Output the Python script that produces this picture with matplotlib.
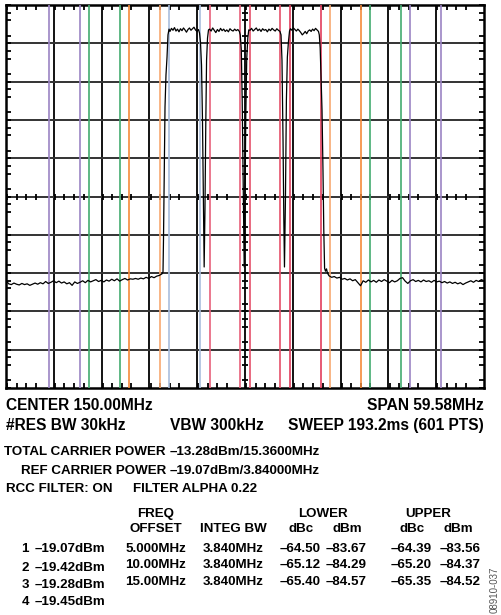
import matplotlib
matplotlib.use("Agg")
import matplotlib.pyplot as plt
import numpy as np
from matplotlib.ticker import MultipleLocator, AutoMinorLocator

plt.rcParams['font.family'] = ['Liberation Sans', 'DejaVu Sans']

W, H = 502, 615

# analyzer settings
center_mhz = 150.0
span_mhz = 59.58
ref_dbm = -34.0
db_per_div = 10.0

# carriers / integration channels
carrier_offsets = [-7.5, -2.5, 2.5, 7.5]
adj_offsets = [5.0, 10.0, 15.0]
integ_bw = 3.84

# trace (MHz, dBm)
floor_left_dbm = [-105.9, -106.8, -107.0, -106.6, -106.9, -107.1, -106.7, -107.0, -106.8, -107.2,
                  -106.9, -106.6, -106.9, -106.5, -106.8, -106.2, -106.7, -106.4, -106.0, -106.5,
                  -106.1, -106.6, -106.3, -106.8, -106.5, -107.2, -106.3, -106.7, -106.4, -106.0,
                  -106.5, -105.9, -106.3, -106.0, -105.7, -106.2, -105.9, -106.3, -105.8, -106.1,
                  -105.6, -106.0, -105.5, -106.1, -105.7, -105.4, -105.8, -105.5, -105.6, -105.4,
                  -105.6, -105.3, -105.5, -105.1, -105.4, -104.9, -105.2, -104.8, -104.6, -104.2]
skirt_left_mhz = [139.78, 139.84, 139.90, 140.03, 140.15, 140.28, 140.40, 140.53]
skirt_left_dbm = [-103.7, -95.4, -85.0, -60.6, -52.3, -47.6, -41.8, -40.3]
carrier1_dbm = [-40.9, -40.1, -40.6, -39.9, -40.8, -40.3, -41.0, -40.2, -40.7, -40.0,
                -40.5, -41.1, -40.4, -40.0, -40.6, -40.2, -39.8, -40.5, -40.9, -40.4]
notch1_mhz = [144.33, 144.45, 144.58, 144.70, 144.83, 144.91, 145.01, 145.11, 145.21, 145.33, 145.45]
notch1_dbm = [-41.3, -43.7, -49.7, -64.0, -87.5, -102.4, -87.5, -65.3, -48.4, -42.6, -40.5]
carrier2_dbm = [-40.3, -40.8, -40.0, -40.6, -41.2, -40.4, -40.9, -40.1, -40.7, -40.3,
                -40.9, -40.5, -41.0, -40.2, -40.6, -40.8, -40.3, -40.7, -40.4, -40.9]
notch2_mhz = [149.41, 149.54, 149.65, 149.78, 149.90, 150.00, 150.10, 150.22, 150.35, 150.47]
notch2_dbm = [-41.8, -45.7, -58.8, -82.3, -102.4, -84.9, -62.7, -47.8, -42.6, -40.5]
carrier3_dbm = [-40.6, -40.1, -40.8, -40.4, -40.0, -40.7, -40.3, -40.9, -40.2, -40.6,
                -40.4, -41.0, -40.3, -40.7, -40.1, -40.5, -40.8, -40.2, -40.6, -40.9]
notch3_mhz = [154.49, 154.61, 154.74, 154.84, 154.92, 155.04, 155.16, 155.28, 155.41, 155.55]
notch3_dbm = [-41.8, -48.4, -69.2, -90.1, -102.4, -84.9, -58.8, -47.6, -43.7, -40.8]
carrier4_dbm = [-40.2, -40.6, -40.0, -40.4, -40.8, -40.3, -40.7, -41.2, -41.8, -41.4,
                -40.9, -41.5, -40.8, -40.5, -40.9, -40.3, -40.7, -40.1, -40.5, -40.9]
skirt_right_mhz = [159.26, 159.37, 159.47, 159.60, 159.72, 159.82, 159.92, 160.03, 160.16, 160.28]
skirt_right_dbm = [-41.8, -45.2, -52.3, -61.4, -77.1, -92.7, -102.7, -103.5, -102.9, -104.0]
floor_right_dbm = [-104.7, -105.1, -104.9, -105.3, -105.1, -105.6, -105.4, -105.8, -105.5, -106.0,
                   -105.7, -106.5, -107.3, -106.0, -106.4, -105.8, -106.3, -105.9, -106.4, -105.8,
                   -106.2, -105.7, -106.1, -106.5, -105.9, -106.3, -106.0, -105.4, -105.2, -106.1,
                   -106.7, -106.0, -105.7, -106.2, -105.9, -106.3, -105.8, -106.2, -106.0, -106.4,
                   -105.9, -106.3, -106.1, -106.5, -106.2, -106.6, -106.3, -106.7, -106.4, -106.8,
                   -106.5, -107.0, -106.6, -106.3, -106.0, -106.4, -105.9, -106.2, -105.7, -106.0]

f_lo = center_mhz - span_mhz / 2
f_hi = center_mhz + span_mhz / 2

trace_mhz = np.concatenate([
    np.linspace(f_lo, 139.65, len(floor_left_dbm)), skirt_left_mhz,
    np.linspace(140.65, 144.20, len(carrier1_dbm)), notch1_mhz,
    np.linspace(145.58, 149.30, len(carrier2_dbm)), notch2_mhz,
    np.linspace(150.62, 154.36, len(carrier3_dbm)), notch3_mhz,
    np.linspace(155.67, 159.16, len(carrier4_dbm)), skirt_right_mhz,
    np.linspace(160.47, f_hi, len(floor_right_dbm))])
trace_dbm = np.concatenate([floor_left_dbm, skirt_left_dbm, carrier1_dbm, notch1_dbm,
                            carrier2_dbm, notch2_dbm, carrier3_dbm, notch3_dbm,
                            carrier4_dbm, skirt_right_dbm, floor_right_dbm])

# colours of the integration-channel markers
carrier_cols = ['#a9bedd', '#e8607a', '#e5506a', '#e23d5c']
adj_inner_cols = ['#f7a870', '#43ab70', '#9b84c4']
adj_outer_cols = ['#f58a3a', '#43ab70', '#9b84c4']

fig = plt.figure(figsize=(W / 100, H / 100), dpi=100)
ax = fig.add_axes([6 / W, 1 - 388 / H, 478 / W, 383 / H])
ax.set_xlim(f_lo, f_hi)
ax.set_ylim(ref_dbm - 10 * db_per_div, ref_dbm)

ax.xaxis.set_major_locator(MultipleLocator(span_mhz / 10))
ax.yaxis.set_major_locator(MultipleLocator(db_per_div))
ax.xaxis.set_minor_locator(AutoMinorLocator(5))
ax.yaxis.set_minor_locator(AutoMinorLocator(5))
ax.tick_params(which='both', direction='in', top=True, right=True,
               labelbottom=False, labelleft=False)
ax.tick_params(which='major', length=0)
ax.tick_params(which='minor', length=3.5, width=1.3, color='black')
for x in np.arange(1, 10) * span_mhz / 10 + f_lo:
    ax.axvline(x, color='black', lw=1.3, zorder=1)
for y in ref_dbm - np.arange(1, 10) * db_per_div:
    ax.axhline(y, color='#333333', lw=1.4, zorder=1)
for s in ax.spines.values():
    s.set_linewidth(1.8)

# tick marks on the centre cross
mid_y = ref_dbm - 5 * db_per_div
xt = [t for t in ax.xaxis.get_minorticklocs() if f_lo < t < f_hi]
yt = [t for t in ax.yaxis.get_minorticklocs() if mid_y - 50 < t < ref_dbm]
ax.plot(xt, [mid_y] * len(xt), ls='none', marker='|', ms=5, mew=1.3, color='black', zorder=2)
ax.plot([center_mhz] * len(yt), yt, ls='none', marker='_', ms=5, mew=1.3, color='black', zorder=2)

# channel edge markers
for off, c in zip(carrier_offsets, carrier_cols):
    for e in (-integ_bw / 2, integ_bw / 2):
        ax.axvline(center_mhz + off + e, color=c, lw=1.2, zorder=3)
for off, ci, co in zip(adj_offsets, adj_inner_cols, adj_outer_cols):
    lo_c = center_mhz + carrier_offsets[0] - off
    hi_c = center_mhz + carrier_offsets[-1] + off
    ax.axvline(lo_c - integ_bw / 2, color=co, lw=1.2, zorder=3)
    ax.axvline(lo_c + integ_bw / 2, color=ci, lw=1.2, zorder=3)
    ax.axvline(hi_c - integ_bw / 2, color=ci, lw=1.2, zorder=3)
    ax.axvline(hi_c + integ_bw / 2, color=co, lw=1.2, zorder=3)

ax.plot(trace_mhz, trace_dbm, color='black', lw=0.9, zorder=4)


def txt(x, y, s, size=9.6, ha='left', **kw):
    fig.text(x / W, 1 - y / H, s, fontsize=size, fontweight='bold', ha=ha, va='baseline', **kw)


txt(6.5, 410, 'CENTER 150.00MHz', 11.2)
txt(484, 410, 'SPAN 59.58MHz', 11.2, ha='right')
txt(6.5, 430, '#RES BW 30kHz', 11.2)
txt(170, 430, 'VBW 300kHz', 11.2)
txt(484, 430, 'SWEEP 193.2ms (601 PTS)', 11.2, ha='right')

txt(166, 455, 'TOTAL CARRIER POWER', ha='right')
txt(169.5, 455, '\u201313.28dBm/15.3600MHz')
txt(166, 474, 'REF CARRIER POWER', ha='right')
txt(169.5, 474, '\u201319.07dBm/3.84000MHz')
txt(6.5, 492, 'RCC FILTER: ON')
txt(133, 492, 'FILTER ALPHA 0.22')

# ACLR table
ref_rows = ['1', '2', '3', '4']
ref_pwr = ['\u201319.07dBm', '\u201319.42dBm', '\u201319.28dBm', '\u201319.45dBm']
freq_off = ['5.000MHz', '10.00MHz', '15.00MHz']
integ_bw_txt = ['3.840MHz', '3.840MHz', '3.840MHz']
lower_dbc = ['\u201364.50', '\u201365.12', '\u201365.40']
lower_dbm = ['\u201383.67', '\u201384.29', '\u201384.57']
upper_dbc = ['\u201364.39', '\u201365.20', '\u201365.35']
upper_dbm = ['\u201383.56', '\u201384.37', '\u201384.52']

txt(156, 517, 'FREQ', ha='center')
txt(323, 517, 'LOWER', ha='center')
txt(428, 517, 'UPPER', ha='center')
for x, s in zip([156, 233, 301, 347, 412, 458],
                ['OFFSET', 'INTEG BW', 'dBc', 'dBm', 'dBc', 'dBm']):
    txt(x, 532, s, ha='center')

for y, n, p in zip([552, 571, 588.5, 605], ref_rows, ref_pwr):
    txt(21.5, y, n)
    txt(35, y, p)
for i, y in enumerate([552, 568.5, 585]):
    txt(156, y, freq_off[i], ha='center')
    txt(233, y, integ_bw_txt[i], ha='center')
    txt(300, y, lower_dbc[i], ha='center')
    txt(346.5, y, lower_dbm[i], ha='center')
    txt(411.5, y, upper_dbc[i], ha='center')
    txt(460, y, upper_dbm[i], ha='center')

fig.text(495 / W, 1 - 590 / H, '08910-037', fontsize=7, color='#555555',
         rotation=90, ha='center', va='center')

fig.savefig('out.png', dpi=100)
